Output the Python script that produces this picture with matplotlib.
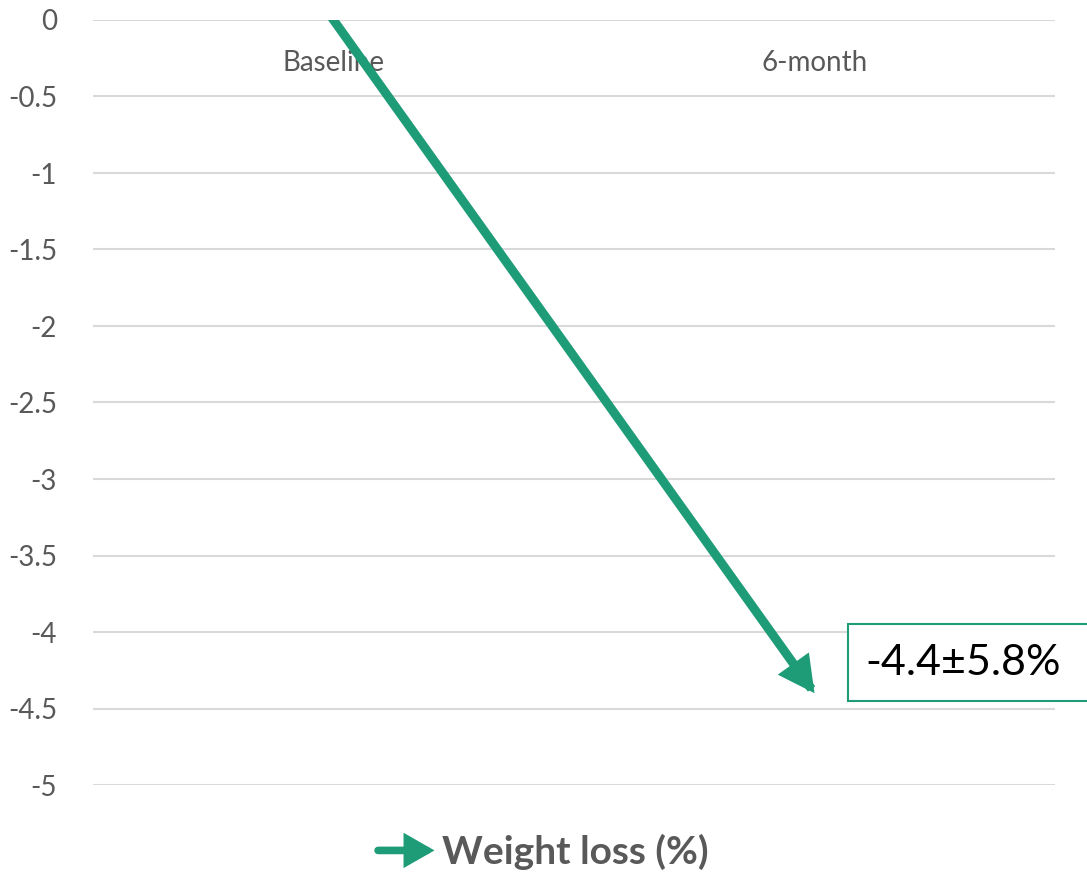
import matplotlib
matplotlib.use("Agg")
import matplotlib.pyplot as plt
from matplotlib.patches import FancyArrowPatch, Rectangle
from matplotlib.legend_handler import HandlerBase
from matplotlib.lines import Line2D

plt.rcParams['font.family'] = ['Lato', 'DejaVu Sans']

# data
categories = ["Baseline", "6-month"]
weight_change = [0.0, -4.4]
change_sd = 5.8
series_name = "Weight loss (%)"
y_ticks = [0, -0.5, -1, -1.5, -2, -2.5, -3, -3.5, -4, -4.5, -5]

GREEN = "#1E9C77"
GRAY = "#595959"
GRID = "#D9D9D9"

fig = plt.figure(figsize=(10.87, 8.72), dpi=100)
ax = fig.add_axes([93 / 1087, 1 - 785 / 872, (1055 - 93) / 1087, (785 - 20) / 872])

x = list(range(len(categories)))
ax.set_xlim(-0.5, len(categories) - 0.5)
ax.set_ylim(-5, 0)

for s in ax.spines.values():
    s.set_visible(False)
ax.set_yticks(y_ticks)
ax.set_yticklabels([f"{v:g}" for v in y_ticks])
ax.tick_params(axis='y', length=0, pad=26, labelsize=20, labelcolor=GRAY)
ax.set_xticks([])
ax.grid(axis='y', color=GRID, linewidth=1.5)
ax.set_axisbelow(True)

# category labels just under the zero line
for xi, name in zip(x, categories):
    ax.annotate(name, xy=(xi, 0), xytext=(0, -43), textcoords='offset pixels',
                ha='center', va='center', fontsize=20, color=GRAY)

# series drawn as an arrow from baseline to 6-month
arrow = FancyArrowPatch((x[0], weight_change[0]), (x[1], weight_change[1]),
                        arrowstyle='-|>,head_length=0.8,head_width=0.42',
                        mutation_scale=20, linewidth=6.5, color=GREEN,
                        shrinkA=0, shrinkB=0, capstyle='projecting',
                        joinstyle='miter', zorder=3)
ax.add_patch(arrow)

# value label box
ax.add_patch(Rectangle((1.07, weight_change[1] - 0.05), 0.6, 0.5,
                       facecolor='white', edgecolor=GREEN, linewidth=1.5,
                       clip_on=False, zorder=4))
ax.text(1.105, weight_change[1] + 0.2, f"{weight_change[1]:g}±{change_sd:g}%",
        ha='left', va='center', fontsize=31, color='black', zorder=5)


class ArrowHandler(HandlerBase):
    def create_artists(self, legend, orig_handle, xdescent, ydescent,
                       width, height, fontsize, trans):
        y = height / 2 - ydescent
        a = FancyArrowPatch((-xdescent, y), (-xdescent + width, y),
                            arrowstyle='-|>,head_length=0.7,head_width=0.4',
                            mutation_scale=20, linewidth=5.5, color=GREEN,
                            shrinkA=0, shrinkB=0, capstyle='round',
                            joinstyle='miter', transform=trans)
        return [a]


handle = Line2D([], [], color=GREEN)
leg = fig.legend([handle], [series_name], loc='center',
                 bbox_to_anchor=(0.5, 1 - 852 / 872), frameon=False,
                 handler_map={Line2D: ArrowHandler()},
                 handlelength=1.45, handletextpad=0.2,
                 prop={'size': 28, 'weight': 'bold'})
for t in leg.get_texts():
    t.set_color(GRAY)

fig.savefig("out.png", dpi=100)
